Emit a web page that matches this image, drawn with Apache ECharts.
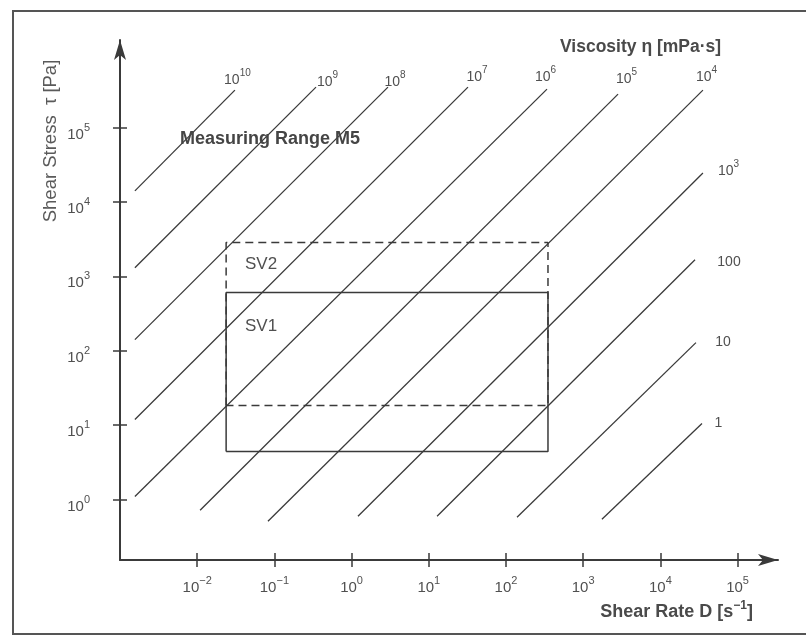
<!DOCTYPE html>
<html>
<head>
<meta charset="utf-8">
<script src="https://cdn.jsdelivr.net/npm/echarts@6/dist/echarts.min.js"></script>
<style>
  html, body { margin: 0; padding: 0; background: #ffffff; }
  #chart { width: 806px; height: 643px; }
</style>
</head>
<body>
<div id="chart"></div>
<script>
// Decade ticks on the two logarithmic axes
const shearRateTicks = [1e-2, 1e-1, 1e0, 1e1, 1e2, 1e3, 1e4, 1e5];   // D [1/s]
const shearStressTicks = [1e0, 1e1, 1e2, 1e3, 1e4, 1e5];             // tau [Pa]

// Iso-viscosity lines (eta in mPa·s): segment start and end points
const viscosityLabels = ['10^10', '10^9', '10^8', '10^7', '10^6', '10^5', '10^4', '10^3', '100', '10', '1'];
const lineStartRate   = [0.00156, 0.00156, 0.00156, 0.00156, 0.00156, 0.0109, 0.0826, 1.21, 12.8, 139, 1750];
const lineStartStress = [14050, 1303, 141, 11.9, 1.10, 0.716, 0.510, 0.595, 0.595, 0.577, 0.543];
const lineEndRate     = [0.0308, 0.346, 2.96, 32.2, 340, 2830, 35600, 35600, 28100, 28900, 34600];
const lineEndStress   = [318000, 349000, 349000, 349000, 328000, 281000, 318000, 24500, 1667, 128.5, 10.5];

// Measuring ranges of the two sensors: [low, high]
const sv1Rate = [0.0237, 350];
const sv1Stress = [4.43, 605];
const sv2Rate = [0.0237, 350];
const sv2Stress = [18.4, 2840];

// Visible axis extents
const rateExtent = [1e-3, 3.34e5];
const stressExtent = [0.1538, 1.50e6];

// Label placement around the upper end of each iso-viscosity line (px)
const labelOffsets = [[2.5, -9.5], [11.5, -4.5], [7, -5], [9, -9.5], [-1.5, -11.5], [8.5, -15],
                      [3.5, -13], [25.5, -2], [34, 2], [27, 0], [16.5, 0]];

const FONT = '"Liberation Sans", Arial, Helvetica, sans-serif';
const TEXT = '#505050';
const INK = '#3a3a3a';

function supRich(size, color) {
  return {
    b: { fontSize: size, lineHeight: size + 10, color: color, fontFamily: FONT },
    s: { fontSize: Math.round(size * 0.72), color: color, fontFamily: FONT, verticalAlign: 'top' }
  };
}
function powerText(label) {
  const m = /^10\^(-?\d+)$/.exec(label);
  return m ? '{b|10}{s|' + m[1].replace('-', '\u2212') + '}' : '{b|' + label + '}';
}
function decadeLabel(v) {
  return powerText('10^' + Math.round(Math.log10(v)));
}

function rectPath(rate, stress) {
  return [[rate[0], stress[0]], [rate[0], stress[1]], [rate[1], stress[1]], [rate[1], stress[0]], [rate[0], stress[0]]];
}

const series = [];
viscosityLabels.forEach(function (label, i) {
  series.push({
    type: 'line',
    name: label,
    silent: true,
    showSymbol: true,
    symbol: 'circle',
    symbolSize: 0,
    lineStyle: { color: INK, width: 1.3 },
    itemStyle: { color: INK },
    data: [
      [lineStartRate[i], lineStartStress[i]],
      {
        value: [lineEndRate[i], lineEndStress[i]],
        label: {
          show: true,
          position: 'inside',
          offset: labelOffsets[i],
          formatter: powerText(label),
          rich: supRich(14, TEXT)
        }
      }
    ]
  });
});

series.push({
  type: 'line', name: 'SV2', silent: true, showSymbol: false,
  lineStyle: { color: INK, width: 1.5, type: [8, 5] },
  data: rectPath(sv2Rate, sv2Stress)
});
series.push({
  type: 'line', name: 'SV1', silent: true, showSymbol: false,
  lineStyle: { color: INK, width: 1.5 },
  data: rectPath(sv1Rate, sv1Stress)
});

const tickLine = { color: INK, width: 1.5 };

const option = {
  animation: false,
  backgroundColor: '#ffffff',
  textStyle: { fontFamily: FONT },
  grid: { left: 120, right: 28, top: 40, bottom: 83, outerBoundsMode: 'none' },
  title: [
    { text: 'Viscosity \u03b7 [mPa\u00b7s]', left: 560, top: 38, padding: 0,
      textStyle: { fontSize: 17.5, fontWeight: 'bold', color: '#4a4a4a', fontFamily: FONT } },
    { text: 'Measuring Range M5', left: 180, top: 130, padding: 0,
      textStyle: { fontSize: 18, fontWeight: 'bold', color: '#454545', fontFamily: FONT } },
    { text: 'SV2', left: 245, top: 256, padding: 0,
      textStyle: { fontSize: 17, fontWeight: 'normal', color: '#505050', fontFamily: FONT } },
    { text: 'SV1', left: 245, top: 318, padding: 0,
      textStyle: { fontSize: 17, fontWeight: 'normal', color: '#505050', fontFamily: FONT } }
  ],
  xAxis: [
    {
      type: 'log', logBase: 10, min: rateExtent[0], max: rateExtent[1], position: 'bottom',
      name: 'Shear Rate D [s{s|\u22121}]',
      nameLocation: 'end', nameGap: -25, nameMoveOverlap: false,
      nameTextStyle: {
        fontSize: 18, fontWeight: 'bold', color: '#4a4a4a', fontFamily: FONT,
        align: 'right', verticalAlign: 'middle', lineHeight: 24,
        padding: [104, 0, 0, 0],
        rich: { s: { fontSize: 12, fontWeight: 'bold', color: '#4a4a4a', verticalAlign: 'top' } }
      },
      axisLine: { show: true, symbol: ['none', 'arrow'], symbolSize: [9, 20], lineStyle: { color: INK, width: 2 } },
      axisTick: { show: true, customValues: shearRateTicks, length: 7, lineStyle: tickLine },
      axisLabel: { customValues: shearRateTicks, formatter: decadeLabel, rich: supRich(15, TEXT), margin: 15 },
      splitLine: { show: false },
      minorTick: { show: false }
    },
    {
      // inner half of the crossing tick marks
      type: 'log', logBase: 10, min: rateExtent[0], max: rateExtent[1], position: 'bottom',
      axisLine: { show: false },
      axisTick: { show: true, inside: true, customValues: shearRateTicks, length: 7, lineStyle: tickLine },
      axisLabel: { show: false },
      splitLine: { show: false }
    }
  ],
  yAxis: [
    {
      type: 'log', logBase: 10, min: stressExtent[0], max: stressExtent[1], position: 'left',
      name: 'Shear Stress  \u03c4 [Pa]',
      nameLocation: 'middle', nameGap: 60, nameRotate: 90, nameMoveOverlap: false,
      nameTextStyle: { fontSize: 18.5, color: '#5a5a5a', fontFamily: FONT, padding: [0, 0, 0, 318] },
      axisLine: { show: true, symbol: ['none', 'arrow'], symbolSize: [9, 20], lineStyle: { color: INK, width: 2 } },
      axisTick: { show: true, customValues: shearStressTicks, length: 7, lineStyle: tickLine },
      axisLabel: { customValues: shearStressTicks, formatter: decadeLabel, rich: supRich(15, TEXT),
                   margin: 30, padding: [14, 0, 0, 0] },
      splitLine: { show: false },
      minorTick: { show: false }
    },
    {
      type: 'log', logBase: 10, min: stressExtent[0], max: stressExtent[1], position: 'left',
      axisLine: { show: false },
      axisTick: { show: true, inside: true, customValues: shearStressTicks, length: 7, lineStyle: tickLine },
      axisLabel: { show: false },
      splitLine: { show: false }
    }
  ],
  graphic: [
    {
      type: 'rect', silent: true, z: -1,
      shape: { x: 13, y: 11, width: 806, height: 623 },
      style: { fill: 'none', stroke: '#555555', lineWidth: 2 }
    }
  ],
  series: series
};

const chart = echarts.init(document.getElementById('chart'), null, { renderer: 'canvas' });
chart.setOption(option);
</script>
</body>
</html>
